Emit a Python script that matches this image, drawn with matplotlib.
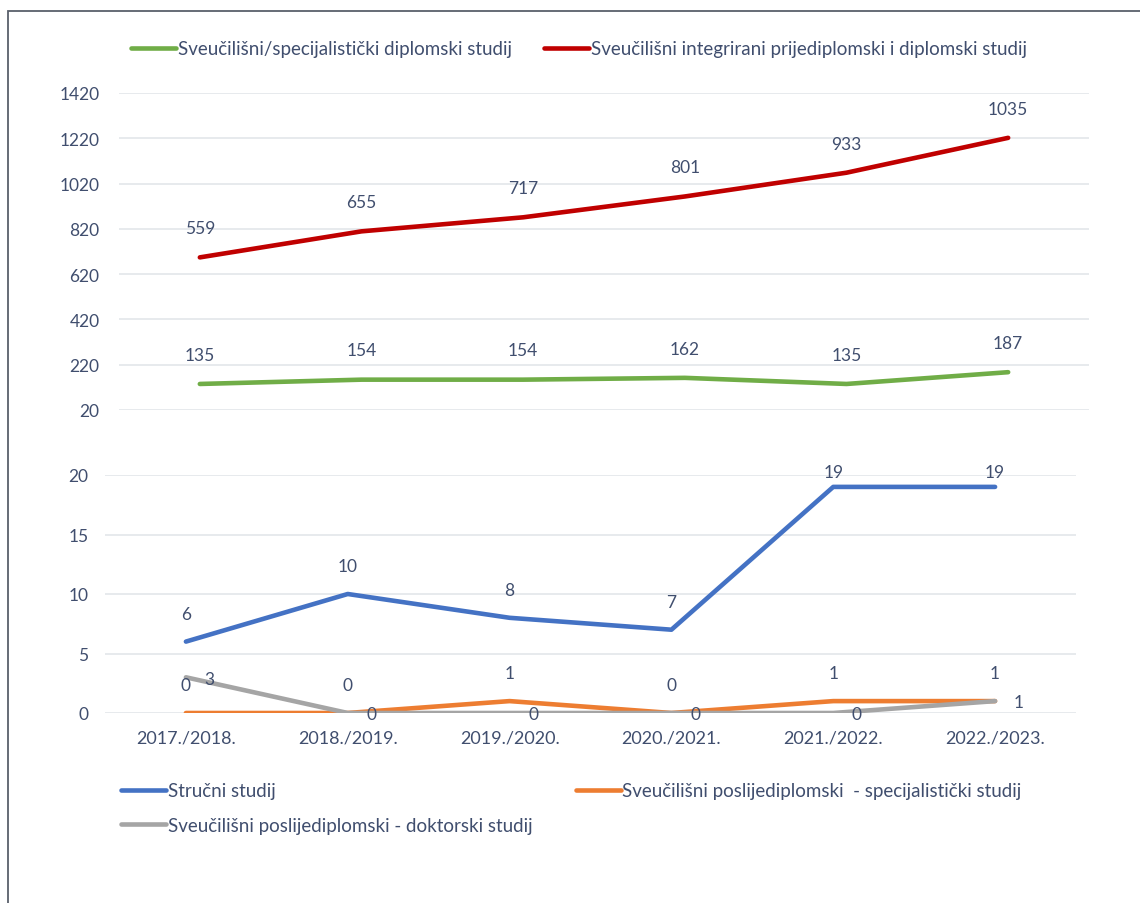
import numpy as np
import matplotlib
matplotlib.use('Agg')
import matplotlib.pyplot as plt
from matplotlib.patches import Rectangle

plt.rcParams['font.family'] = ['Lato', 'DejaVu Sans']

# Podaci
godine = ['2017./2018.', '2018./2019.', '2019./2020.', '2020./2021.', '2021./2022.', '2022./2023.']
diplomski = [135, 154, 154, 162, 135, 187]
integrirani = [559, 655, 717, 801, 933, 1035]
strucni = [6, 10, 8, 7, 19, 19]
specijalisticki = [0, 0, 1, 0, 1, 1]
doktorski = [3, 0, 0, 0, 0, 1]

lab_diplomski = 'Sveučilišni/specijalistički diplomski studij'
lab_integrirani = 'Sveučilišni integrirani prijediplomski i diplomski studij'
lab_strucni = 'Stručni studij'
lab_specijalisticki = 'Sveučilišni poslijediplomski  - specijalistički studij'
lab_doktorski = 'Sveučilišni poslijediplomski - doktorski studij'

txt = '#404E6E'
grid = '#E3E6EA'
W, H = 1140, 904

def px_axes(x0, y0, x1, y1):
    return fig.add_axes([x0 / W, 1 - y1 / H, (x1 - x0) / W, (y1 - y0) / H])

def stil(ax, pad):
    for s in ax.spines.values():
        s.set_visible(False)
    ax.tick_params(length=0, colors=txt, labelsize=12.5, pad=pad)
    ax.yaxis.grid(True, color=grid, lw=1.2)
    ax.set_axisbelow(True)

fig = plt.figure(figsize=(W / 100, H / 100), dpi=100)
fig.patches.append(Rectangle((8 / W, -0.1), 1.2, 1.1 - 12 / H, transform=fig.transFigure,
                             fill=False, edgecolor='#59606B', lw=1.3))

x = np.arange(len(godine))

# === Gornji graf (naslagano) ===
ax1 = px_axes(119, 94, 1089, 411)
stil(ax1, 14)
dno = np.array(diplomski)
vrh = dno + np.array(integrirani)
l_dip, = ax1.plot(x, dno, color='#70AD47', lw=3.3, solid_capstyle='round', label=lab_diplomski)
l_int, = ax1.plot(x, vrh, color='#C00000', lw=3.3, solid_capstyle='round', label=lab_integrirani)
for xi, yi, v in zip(x, dno, diplomski):
    ax1.annotate(str(v), (xi, yi), xytext=(0, 21), textcoords='offset points',
                 ha='center', va='center', color=txt, fontsize=12.5)
for xi, yi, v in zip(x, vrh, integrirani):
    ax1.annotate(str(v), (xi, yi), xytext=(0, 21), textcoords='offset points',
                 ha='center', va='center', color=txt, fontsize=12.5)
ax1.set_xlim(-0.5, 5.5)
ax1.set_ylim(20, 1420)
ax1.set_yticks(np.arange(20, 1421, 200))
ax1.set_xticks([])

# === Donji graf ===
ax2 = px_axes(105, 476, 1076, 714)
stil(ax2, 12)
l_str, = ax2.plot(x, strucni, color='#4472C4', lw=3.3, solid_capstyle='round', label=lab_strucni)
l_spe, = ax2.plot(x, specijalisticki, color='#ED7D31', lw=3.3, solid_capstyle='round', label=lab_specijalisticki)
l_dok, = ax2.plot(x, doktorski, color='#A5A5A5', lw=3.3, solid_capstyle='round', label=lab_doktorski)
for xi, v in zip(x, strucni):
    off = 11 if v >= 18 else 20
    ax2.annotate(str(v), (xi, v), xytext=(0, off), textcoords='offset points',
                 ha='center', va='center', color=txt, fontsize=12.5)
for xi, v in zip(x, specijalisticki):
    ax2.annotate(str(v), (xi, v), xytext=(0, 20), textcoords='offset points',
                 ha='center', va='center', color=txt, fontsize=12.5)
for xi, v in zip(x, doktorski):
    ax2.annotate(str(v), (xi, v), xytext=(17, -1), textcoords='offset points',
                 ha='center', va='center', color=txt, fontsize=12.5)
ax2.set_xlim(-0.5, 5.5)
ax2.set_ylim(0, 20)
ax2.set_yticks([0, 5, 10, 15, 20])
ax2.set_xticks(x)
ax2.set_xticklabels(godine, fontsize=13)
ax2.tick_params(axis='x', pad=12)

# === Legende ===
fig.legend(handles=[l_dip, l_int], loc='center left', bbox_to_anchor=(131 / W, 1 - 50 / H),
           ncol=2, frameon=False, fontsize=13.5, labelcolor=txt, handlelength=2.4,
           handletextpad=0.1, columnspacing=1.7, borderaxespad=0, borderpad=0)
fig.legend(handles=[l_str, l_dok, l_spe], loc='center left', bbox_to_anchor=(121 / W, 1 - 809 / H),
           ncol=2, frameon=False, fontsize=13.5, labelcolor=txt, handlelength=2.4,
           handletextpad=0.1, columnspacing=2.3, labelspacing=0.95, borderaxespad=0, borderpad=0)

fig.savefig('out.png', dpi=100)
